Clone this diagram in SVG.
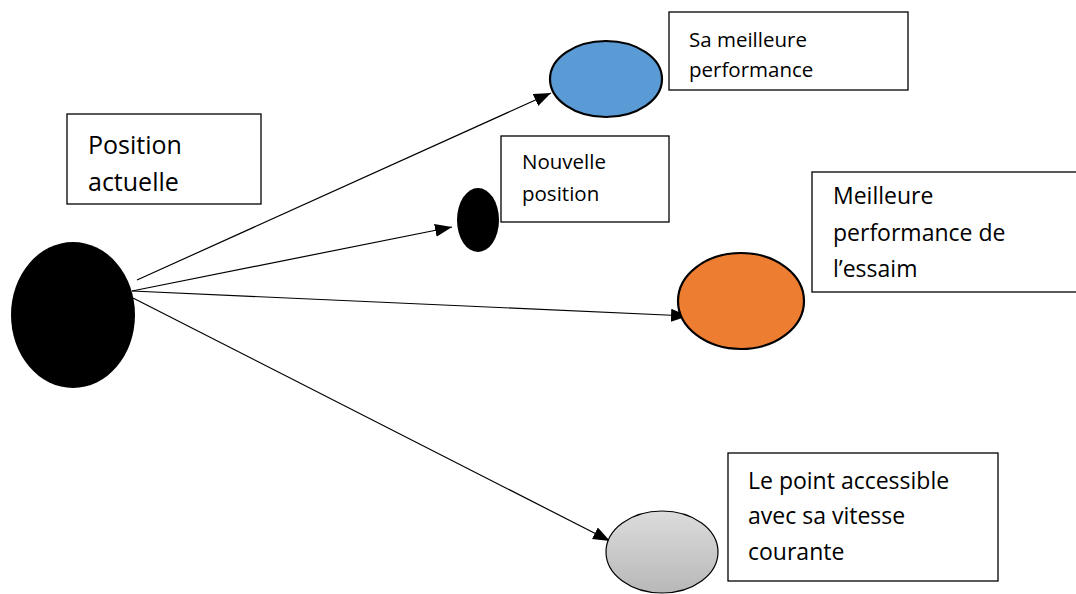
<svg xmlns="http://www.w3.org/2000/svg" width="1076" height="594" viewBox="0 0 1076 594">
<style>
.box{fill:#fff;stroke:#000;stroke-width:1.3}
.t{font-family:"Open Sans","Liberation Sans",sans-serif;fill:#000}
.conn{stroke:#000;stroke-width:1.2;fill:none}
</style>
<defs>
<marker id="ah" markerUnits="userSpaceOnUse" markerWidth="18" markerHeight="14" refX="17" refY="6.5" orient="auto">
<path d="M0,0 L17,6.5 L0,13 z" fill="#000"/>
</marker>
<linearGradient id="gg" x1="0" y1="0" x2="0" y2="1">
<stop offset="0" stop-color="#dcdcdc"/>
<stop offset="1" stop-color="#b8b8b8"/>
</linearGradient>
</defs>
<rect width="1076" height="594" fill="#fff"/>
<g id="connectors">
<line class="conn" x1="137" y1="280" x2="551" y2="93" marker-end="url(#ah)"/>
<line class="conn" x1="132" y1="291" x2="452" y2="227" marker-end="url(#ah)"/>
<line class="conn" x1="132" y1="291" x2="688" y2="316" marker-end="url(#ah)"/>
<line class="conn" x1="133" y1="298" x2="610" y2="541" marker-end="url(#ah)"/>
</g>
<g id="position-actuelle">
<ellipse cx="73" cy="315" rx="62" ry="73" fill="#000"/>
<rect class="box" x="67" y="114" width="194" height="90"/>
<text class="t" font-size="25" x="88" y="154">Position</text>
<text class="t" font-size="25" x="88" y="191">actuelle</text>
</g>
<g id="sa-meilleure-performance">
<ellipse cx="606" cy="79" rx="56" ry="38" fill="#5b9bd5" stroke="#000" stroke-width="2.2"/>
<rect class="box" x="669" y="12" width="239" height="78"/>
<text class="t" font-size="20.5" x="689" y="47">Sa meilleure</text>
<text class="t" font-size="20.5" x="689" y="77">performance</text>
</g>
<g id="nouvelle-position">
<ellipse cx="478" cy="220" rx="21" ry="32" fill="#000"/>
<rect class="box" x="501" y="136" width="168" height="86"/>
<text class="t" font-size="20.5" x="522" y="169">Nouvelle</text>
<text class="t" font-size="20.5" x="522" y="201">position</text>
</g>
<g id="meilleure-performance-essaim">
<ellipse cx="741" cy="301" rx="63" ry="48" fill="#ed7d31" stroke="#000" stroke-width="2.2"/>
<rect class="box" x="812" y="172" width="270" height="120"/>
<text class="t" font-size="23" x="833" y="204">Meilleure</text>
<text class="t" font-size="23" x="833" y="241">performance de</text>
<text class="t" font-size="23" x="833" y="277">l’essaim</text>
</g>
<g id="point-accessible">
<ellipse cx="662" cy="552" rx="56" ry="41" fill="url(#gg)" stroke="#000" stroke-width="1.2"/>
<rect class="box" x="728" y="453" width="270" height="128"/>
<text class="t" font-size="23" x="748" y="489">Le point accessible</text>
<text class="t" font-size="23" x="748" y="524">avec sa vitesse</text>
<text class="t" font-size="23" x="748" y="560">courante</text>
</g>
</svg>
